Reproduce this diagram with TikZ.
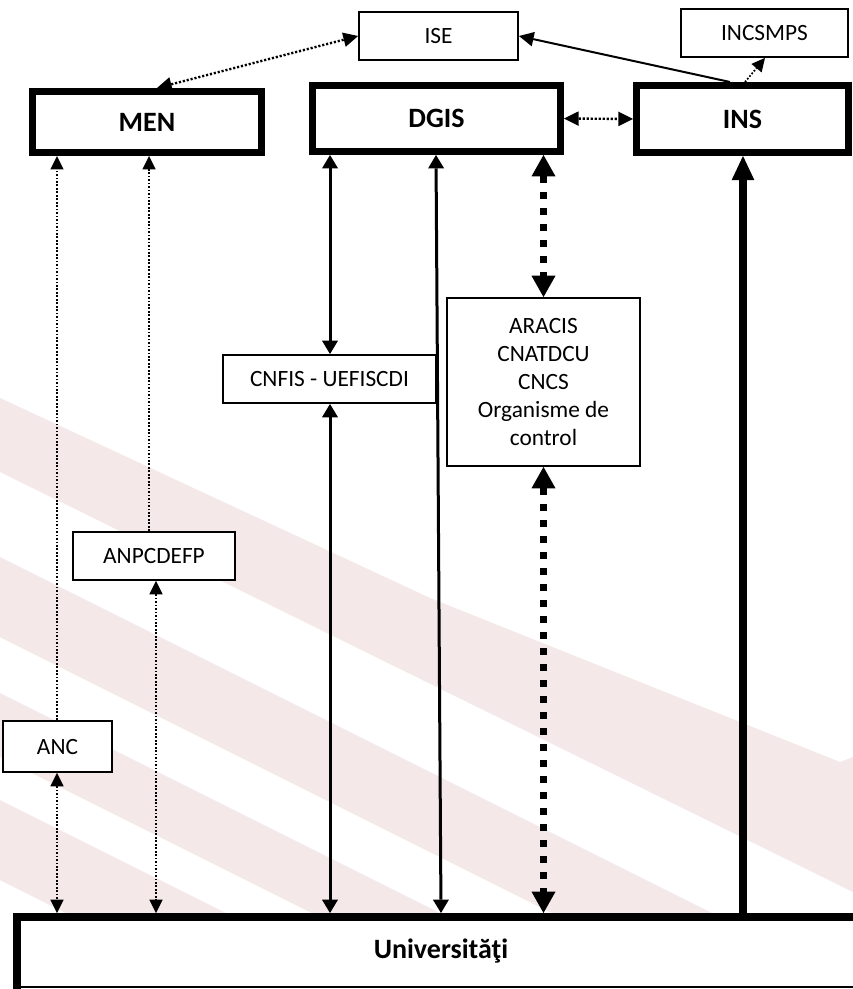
\documentclass[tikz,border=0pt]{standalone}
\usepackage{fontspec}
\setmainfont{Carlito}
\usetikzlibrary{arrows.meta}
\definecolor{wm}{RGB}{244,232,232}
\begin{document}
\begin{tikzpicture}[x=0.75pt,y=-0.75pt,
  reg/.style={font=\fontsize{17.5}{21}\selectfont},
  boldf/.style={font=\fontsize{21}{25}\selectfont\bfseries},
  thinbox/.style={draw, fill=white, line width=1.4pt, inner sep=0pt, align=center, reg},
  thickbox/.style={draw, fill=white, line width=5.25pt, inner sep=0pt, boldf},
  solidc/.style={line width=2.25pt, >={Triangle[width=12pt,length=10pt,line width=0pt]}},
  thinsolid/.style={line width=1.5pt, >={Triangle[width=11pt,length=11pt,line width=0pt]}},
  dotc/.style={line width=1.3pt, dash pattern=on 1.3pt off 1.3pt, >={Triangle[width=10pt,length=10pt,line width=0pt]}},
  dotch/.style={line width=1.8pt, dash pattern=on 1.6pt off 1.4pt, >={Triangle[width=11pt,length=11pt,line width=0pt]}},
  thickdash/.style={line width=5.25pt, dash pattern=on 5.25pt off 6.75pt, >={Triangle[width=18pt,length=16pt,line width=0pt]}},
  thickc/.style={line width=5.5pt, >={Triangle[width=17pt,length=18pt,line width=0pt]}}
]
\useasboundingbox (0,0) rectangle (853,989);
\fill[white] (0,0) rectangle (853,989);
% watermark stripes
\fill[wm] (0,398) -- (430,598) -- (840,762) -- (853,757) -- (853,892) -- (0,472) -- cycle;
\fill[wm] (0,557) -- (712,913) -- (552,913) -- (0,637) -- cycle;
\fill[wm] (0,693) -- (440,913) -- (312,913) -- (0,757) -- cycle;
\fill[wm] (0,800) -- (226,913) -- (66,913) -- (0,880) -- cycle;

% nodes
\node[thinbox, minimum width=119.25pt, minimum height=36pt] (ise) at (438.5,36) {ISE};
\node[thinbox, minimum width=125.25pt, minimum height=36pt] (incs) at (764.5,33) {INCSMPS};
\node[thickbox, minimum width=171.75pt, minimum height=45.75pt] (men) at (147,122) {MEN};
\node[thickbox, minimum width=186pt, minimum height=49.5pt] (dgis) at (436.5,118.5) {DGIS};
\node[thickbox, minimum width=159pt, minimum height=50.25pt] (ins) at (742.5,119) {INS};
\node[thinbox, minimum width=159.75pt, minimum height=36pt] (cnfis) at (329.5,379) {CNFIS - UEFISCDI};
\node[thinbox, minimum width=144.75pt, minimum height=126pt] (aracis) at (543.5,382) {ARACIS\\CNATDCU\\CNCS\\Organisme de\\control};
\node[thinbox, minimum width=121.5pt, minimum height=36pt] (anpc) at (154,556) {ANPCDEFP};
\node[thinbox, minimum width=81.75pt, minimum height=38.25pt] (anc) at (57.5,746.5) {ANC};
\node[fill=white, inner sep=0pt, minimum width=640pt, minimum height=57pt, anchor=north west] (univ) at (13,913) {};
\draw[line width=6pt] (16.5,995) -- (16.5,917) -- (870,917);
\draw[line width=1.5pt] (16.5,987) -- (870,987);
\node[boldf] (univlabel) at (441,951) {Universităţi};

% x positions
\coordinate (xa) at (57,0);
\coordinate (xb) at (149,0);
\coordinate (xb2) at (156,0);
\coordinate (xc) at (330,0);
\coordinate (xd1) at (436,0);
\coordinate (xd2) at (441,0);
\coordinate (xe) at (543.5,0);
\coordinate (xf) at (743,0);
\coordinate (xg) at (157,0);
\coordinate (xh) at (730,0);
\coordinate (xi) at (745,0);
\coordinate (xj) at (765,0);

% connectors
\draw[dotc, ->] (xa |- anc.north) -- (xa |- men.south);
\draw[dotc, <->] (xa |- anc.south) -- (xa |- univ.north);
\draw[dotc, ->] (xb |- anpc.north) -- (xb |- men.south);
\draw[dotc, <->] (xb2 |- anpc.south) -- (xb2 |- univ.north);
\draw[solidc, <->] (xc |- dgis.south) -- (xc |- cnfis.north);
\draw[solidc, <->] (xc |- cnfis.south) -- (xc |- univ.north);
\draw[solidc, <->] (xd1 |- dgis.south) -- (xd2 |- univ.north);
\draw[thickdash, <->] (xe |- dgis.south) -- (xe |- aracis.north);
\draw[thickdash, <->] (xe |- aracis.south) -- (xe |- univ.north);
\draw[thickc, ->] (xf |- univ.north) -- (xf |- ins.south);
\draw[dotch, <->] (dgis.east) -- (ins.west);
\draw[dotch, <->] (xg |- men.north) -- (ise.west);
\draw[thinsolid, ->] (xh |- ins.north) -- (ise.east);
\draw[dotc, ->] (xi |- ins.north) -- (xj |- incs.south);
\end{tikzpicture}
\end{document}
